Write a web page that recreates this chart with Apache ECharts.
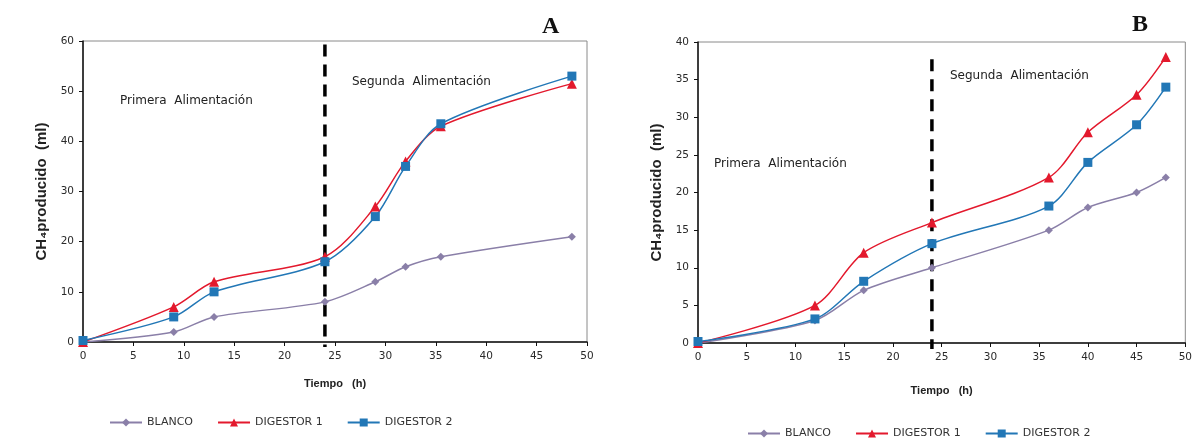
<!DOCTYPE html>
<html>
<head>
<meta charset="utf-8">
<script src="https://cdn.jsdelivr.net/npm/echarts@6/dist/echarts.min.js"></script>
<style>
  html, body { margin: 0; padding: 0; background: #fff; }
  #chart { width: 1195px; height: 441px; }
</style>
</head>
<body>
<div id="chart"></div>
<script>
// series names
var seriesNames = ['BLANCO', 'DIGESTOR 1', 'DIGESTOR 2'];

// panel A: [tiempo (h), CH4 (ml)]
var blancoA = [[0, 0], [9, 2], [13, 5], [24, 8], [29, 12], [32, 15], [35.5, 17], [48.5, 21]];
var digestor1A = [[0, 0], [9, 7], [13, 12], [24, 17], [29, 27], [32, 36], [35.5, 43], [48.5, 51.5]];
var digestor2A = [[0, 0.3], [9, 5], [13, 10], [24, 16], [29, 25], [32, 35], [35.5, 43.5], [48.5, 53]];

// panel B
var blancoB = [[0, 0], [12, 3], [17, 7], [24, 10], [36, 15], [40, 18], [45, 20], [48, 22]];
var digestor1B = [[0, 0], [12, 5], [17, 12], [24, 16], [36, 22], [40, 28], [45, 33], [48, 38]];
var digestor2B = [[0, 0.2], [12, 3.2], [17, 8.2], [24, 13.2], [36, 18.2], [40, 24], [45, 29], [48, 34]];

// vertical dashed divider (second feeding at 24 h)
var dividerA = [[24, 59.3], [24, -1]];
var dividerB = [[24, 37.7], [24, -0.8]];

var colors = { blanco: '#8a7fa8', d1: '#e3192d', d2: '#2277b6' };
var tickFont = { fontFamily: 'DejaVu Sans', fontSize: 10.5, color: '#2a2a2a' };

function xAxisCfg(idx) {
  return {
    gridIndex: idx, type: 'value', min: 0, max: 50, interval: 5,
    name: 'Tiempo   (h)', nameLocation: 'middle', nameGap: idx === 0 ? 36 : 42,
    nameTextStyle: { fontFamily: 'Liberation Sans', fontWeight: 'bold', fontSize: 11, color: '#222' },
    axisLine: { onZero: false, lineStyle: { color: '#111', width: 1.5 } },
    axisTick: { length: 4, lineStyle: { color: '#111' } },
    axisLabel: Object.assign({ margin: 9 }, tickFont),
    splitLine: { show: false }
  };
}

function yAxisCfg(idx, max, interval) {
  return {
    gridIndex: idx, type: 'value', min: 0, max: max, interval: interval,
    name: 'CH₄producido  (ml)', nameLocation: 'middle', nameGap: 34, nameRotate: 90,
    nameTextStyle: { fontFamily: 'Liberation Sans', fontWeight: 'bold', fontSize: 15, color: '#222' },
    axisLine: { show: true, lineStyle: { color: '#111', width: 1.5 } },
    axisTick: { show: true, length: 4, lineStyle: { color: '#111' } },
    axisLabel: Object.assign({ margin: 9 }, tickFont),
    splitLine: { show: false }
  };
}

function lineSeries(name, data, idx, color, symbol, size) {
  return {
    name: name, type: 'line', xAxisIndex: idx, yAxisIndex: idx,
    data: data, smooth: 0.3, symbol: symbol, symbolSize: size,
    lineStyle: { color: color, width: 1.5 },
    itemStyle: { color: color },
    z: 3
  };
}

function dividerSeries(data, idx) {
  return {
    name: 'divider', type: 'line', xAxisIndex: idx, yAxisIndex: idx,
    data: data, symbol: 'none', clip: false, silent: true,
    lineStyle: { color: '#000', width: 3.5, type: [12, 8] },
    z: 2
  };
}

function legendCfg(left, top) {
  return {
    data: seriesNames, left: left, top: top,
    itemWidth: 32, itemHeight: 10, itemGap: 24,
    textStyle: { fontFamily: 'DejaVu Sans', fontSize: 11, color: '#333' }
  };
}

var myChart = echarts.init(document.getElementById('chart'));
myChart.setOption({
  backgroundColor: '#fff',
  animation: false,
  grid: [
    { left: 83, top: 41, width: 504, height: 301, show: true, borderColor: '#8a8a8a', borderWidth: 1 },
    { left: 698, top: 42, width: 489, height: 301, show: true, borderColor: '#8a8a8a', borderWidth: 1 }
  ],
  xAxis: [xAxisCfg(0), xAxisCfg(1)],
  yAxis: [yAxisCfg(0, 60, 10), yAxisCfg(1, 40, 5)],
  legend: [legendCfg(104, 412), legendCfg(742, 423)],
  graphic: [
    { type: 'text', left: 542, top: 15, style: { text: 'A', font: 'bold 24px "Liberation Serif"', fill: '#111' } },
    { type: 'text', left: 1132, top: 13, style: { text: 'B', font: 'bold 24px "Liberation Serif"', fill: '#111' } },
    { type: 'text', left: 120, top: 95, style: { text: 'Primera  Alimentación', font: '12px "DejaVu Sans"', fill: '#222' } },
    { type: 'text', left: 352, top: 76, style: { text: 'Segunda  Alimentación', font: '12px "DejaVu Sans"', fill: '#222' } },
    { type: 'text', left: 714, top: 158, style: { text: 'Primera  Alimentación', font: '12px "DejaVu Sans"', fill: '#222' } },
    { type: 'text', left: 950, top: 70, style: { text: 'Segunda  Alimentación', font: '12px "DejaVu Sans"', fill: '#222' } }
  ],
  series: [
    dividerSeries(dividerA, 0),
    lineSeries('BLANCO', blancoA, 0, colors.blanco, 'diamond', 8),
    lineSeries('DIGESTOR 1', digestor1A, 0, colors.d1, 'triangle', 10),
    lineSeries('DIGESTOR 2', digestor2A, 0, colors.d2, 'rect', 9),
    dividerSeries(dividerB, 1),
    lineSeries('BLANCO', blancoB, 1, colors.blanco, 'diamond', 8),
    lineSeries('DIGESTOR 1', digestor1B, 1, colors.d1, 'triangle', 10),
    lineSeries('DIGESTOR 2', digestor2B, 1, colors.d2, 'rect', 9)
  ]
});
</script>
</body>
</html>
